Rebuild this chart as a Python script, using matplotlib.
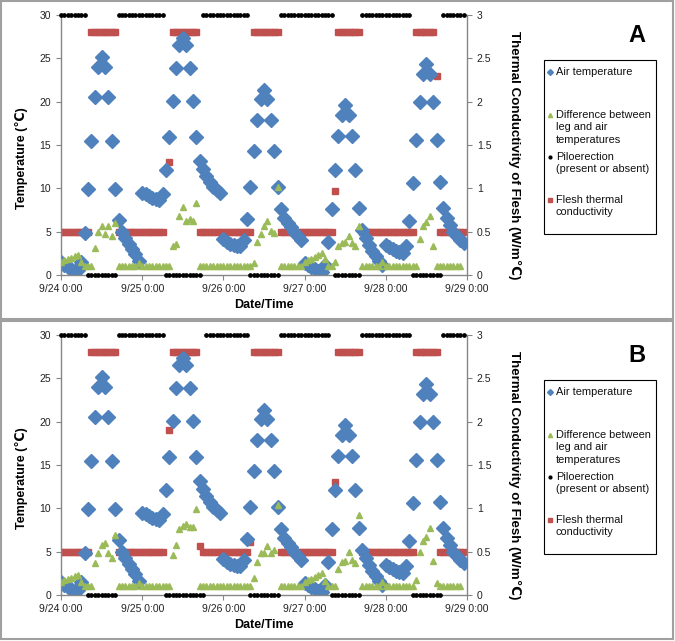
import numpy as np
import matplotlib
matplotlib.use("Agg")
import matplotlib.pyplot as plt
from matplotlib.patches import Rectangle
from matplotlib.lines import Line2D

plt.rcParams['font.family'] = ['Liberation Sans', 'DejaVu Sans']

# ---------------- data (hourly, hours since 9/24 0:00) ----------------
hours = list(range(120))

air_temp = [1.5, 1.1, 0.9, 0.7, 0.5, 0.6, 1.5,
            4.9, 9.9, 15.5, 20.5, 24.0, 25.1, 24.0, 20.5, 15.5, 9.9, 6.3,
            5.0, 4.3, 3.6, 3.0, 2.4, 1.6,
            9.5, 9.3, 9.1, 8.9, 8.8, 8.7, 9.4,
            12.1, 15.9, 20.1, 23.9, 26.5, 27.3, 26.5, 23.9, 20.1, 15.9, 13.1,
            12.2, 11.4, 10.7, 10.2, 9.8, 9.5,
            4.1, 3.8, 3.6, 3.5, 3.3, 3.3, 4.0,
            6.5, 10.2, 14.3, 17.9, 20.3, 21.3, 20.3, 17.9, 14.3, 10.2, 7.6,
            6.6, 6.0, 5.5, 5.0, 4.5, 4.0,
            1.4, 1.1, 0.9, 0.7, 0.5, 0.4, 1.2,
            3.8, 7.6, 12.1, 16.0, 18.5, 19.6, 18.5, 16.0, 12.1, 7.7,
            5.2, 4.3, 3.5, 2.8, 2.2, 1.6, 1.1,
            3.5, 3.2, 3.0, 2.8, 2.6, 2.5, 3.4,
            6.2, 10.6, 15.6, 20.0, 23.2, 24.3, 23.2, 20.0, 15.6, 10.7, 7.7,
            6.6, 5.8, 5.0, 4.5, 4.0, 3.7]

N = None
diff_A = ([1.5, 1.7, 1.9, 2.0, 2.2, 2.3, 1.5, 1.0, 1.0, 1.0,
           3.1, 5.0, 5.6, 4.7, 5.7, 4.5, 6.0]
          + [1.0] * 6 + [1.4] + [1.0] * 9
          + [3.4, 3.6, 6.8, 7.9, 6.2, 6.5, 6.2, 8.3]
          + [1.0] * 16 + [1.4]
          + [3.8, 4.7, 5.6, 6.2, 5.1, 4.9, 10.2]
          + [1.0] * 7
          + [1.5, 1.7, 1.9, 2.1, 2.3, 2.5, 1.8, 1.0, 1.0, 1.5]
          + [3.3, 3.7, 3.8, 4.5, 3.7, 3.3, 5.6]
          + [1.0] * 6 + [1.5] + [1.0] * 10
          + [4.1, 5.6, 6.1, 6.8, 3.4]
          + [1.0] * 8 + [N])

diff_B = ([1.5, 1.7, 1.9, 2.0, 2.2, 2.3, 1.5, 1.0, 1.0, 1.0,
           3.7, 4.9, 5.8, 6.0, 4.8, 4.3, 6.9]
          + [1.0] * 6 + [1.4] + [1.0] * 9
          + [4.6, 5.8, 7.6, 8.0, 8.2, 7.9, 7.8, 9.9]
          + [1.0] * 16 + [2.0]
          + [3.8, 4.8, 4.8, 5.7, 4.8, 5.2, 10.4]
          + [1.0] * 7
          + [1.5, 1.7, 1.9, 2.1, 2.3, 2.5, 1.6, 1.0, 1.0, 1.0]
          + [3.0, 3.8, 3.9, 5.0, 4.0, 3.7, 9.2]
          + [1.0] * 6 + [1.5] + [1.0] * 9 + [1.7]
          + [5.0, 6.2, 6.7, 7.7, 3.9]
          + [1.4] + [1.0] * 7 + [N])

pilo_A = ([30] * 8 + [0] * 9 + [30] * 14 + [0] * 11 + [30] * 14 + [0] * 9
          + [30] * 16 + [0] * 8 + [30] * 15 + [0] * 9 + [30] * 7)
pilo_B = ([30] * 8 + [0] * 9 + [30] * 14 + [0] * 12 + [30] * 13 + [0] * 9
          + [30] * 15 + [0] * 9 + [30] * 15 + [0] * 9 + [30] * 7)

cond_A = ([0.5] * 9 + [2.8] * 8 + [0.5] * 14 + [N, 1.3] + [2.8] * 8
          + [0.5] * 16 + [2.8] * 8 + [0.5] * 16 + [0.97] + [2.8] * 7
          + [0.5] * 16 + [2.8] * 6 + [2.3] + [0.5] * 8)
cond_B = ([0.5] * 9 + [2.8] * 8 + [0.5] * 14 + [N, 1.9] + [2.8] * 8
          + [0.56] + [0.5] * 14 + [0.61] + [2.8] * 8 + [0.5] * 16 + [1.3]
          + [2.8] * 7 + [0.5] * 16 + [2.8] * 7 + [0.5] * 8)

x_ticks = [0, 24, 48, 72, 96, 120]
x_labels = ["9/24 0:00", "9/25 0:00", "9/26 0:00", "9/27 0:00", "9/28 0:00", "9/29 0:00"]
left_ticks = [0, 5, 10, 15, 20, 25, 30]
right_ticks = [0, 0.5, 1, 1.5, 2, 2.5, 3]
right_labels = ["0", "0.5", "1", "1.5", "2", "2.5", "3"]

legend_labels = ["Air temperature",
                 "Difference between\nleg and air\ntemperatures",
                 "Piloerection\n(present or absent)",
                 "Flesh thermal\nconductivity"]

BLUE = "#4F81BD"
GREEN = "#9BBB59"
RED = "#C0504D"
GRAY = "#868686"

W, H = 675, 641
fig = plt.figure(figsize=(W / 100, H / 100), dpi=100)


def fx(x):
    return x / W


def fy(y):
    return 1 - y / H


def arr(v):
    return np.array([np.nan if a is None else a for a in v], dtype=float)


def panel(off, diff, pilo, cond, letter):
    ax = fig.add_axes([fx(61), fy(275 + off), fx(467) - fx(61), fy(15 + off) - fy(275 + off)])
    ax2 = ax.twinx()
    ax.set_zorder(2)
    ax2.set_zorder(1)
    ax.patch.set_visible(False)

    h = np.array(hours, dtype=float)
    ax2.plot(h, arr(cond), linestyle='none', marker='s', ms=4.0, color=RED, mec=RED)
    ax.plot(h, arr(air_temp), linestyle='none', marker='D', ms=6.8, color=BLUE, mec=BLUE, zorder=2)
    ax.plot(h, arr(diff), linestyle='none', marker='^', ms=4.6, color=GREEN, mec=GREEN, zorder=3)
    ax.plot(h, arr(pilo), linestyle='none', marker='o', ms=2.4, color='black', mec='black',
            zorder=4, clip_on=False)

    ax.set_xlim(0, 120)
    ax.set_ylim(0, 30)
    ax2.set_ylim(0, 3)
    ax.set_xticks(x_ticks)
    ax.set_xticklabels(x_labels)
    ax.set_yticks(left_ticks)
    ax2.set_yticks(right_ticks)
    ax2.set_yticklabels(right_labels)

    for a in (ax, ax2):
        for s in a.spines.values():
            s.set_color(GRAY)
            s.set_linewidth(1.0)
        a.spines['top'].set_visible(False)
        a.tick_params(colors=GRAY, labelcolor='#222222', labelsize=7.5, length=3.5, width=0.8)
    ax.spines['right'].set_visible(False)
    ax2.spines['left'].set_visible(False)
    ax2.spines['bottom'].set_visible(False)
    ax.tick_params(axis='x', pad=3)

    fig.text(fx(22), fy(158 + off), "Temperature (℃)", rotation=90, ha='center', va='center',
             fontsize=9, fontweight='bold')
    fig.text(fx(264), fy(305 + off), "Date/Time", ha='center', va='center',
             fontsize=9, fontweight='bold')
    fig.text(fx(515), fy(155 + off), "Thermal Conductivity of Flesh (W/m℃)", rotation=270,
             ha='center', va='center', fontsize=9.6, fontweight='bold')
    fig.text(fx(637), fy(35 + off), letter, ha='center', va='center', fontsize=17, fontweight='bold')

    # legend box
    fig.add_artist(Rectangle((fx(544), fy(234 + off)), fx(656) - fx(544), fy(60 + off) - fy(234 + off),
                             transform=fig.transFigure, fill=False, edgecolor='black', lw=0.8))
    specs = [(BLUE, 'D', 3.0, 72), (GREEN, '^', 3.0, 115), ('black', 'o', 2.0, 157), (RED, 's', 3.0, 200)]
    for (c, m, s, yy), lab in zip(specs, legend_labels):
        fig.add_artist(Line2D([fx(550)], [fy(yy + off)], marker=m, ms=s, color=c, mec=c,
                              linestyle='none', transform=fig.transFigure))
        fig.text(fx(556), fy(yy + off - 5), lab, ha='left', va='top', fontsize=7.9,
                 linespacing=1.3, color='#111111')

    # panel border
    fig.add_artist(Rectangle((fx(1), fy(319 + off)), fx(673) - fx(1), fy(1 + off) - fy(319 + off),
                             transform=fig.transFigure, fill=False, edgecolor='#A0A0A0', lw=1.5))


panel(0, diff_A, pilo_A, cond_A, "A")
panel(320, diff_B, pilo_B, cond_B, "B")

fig.savefig("out.png", dpi=100)
